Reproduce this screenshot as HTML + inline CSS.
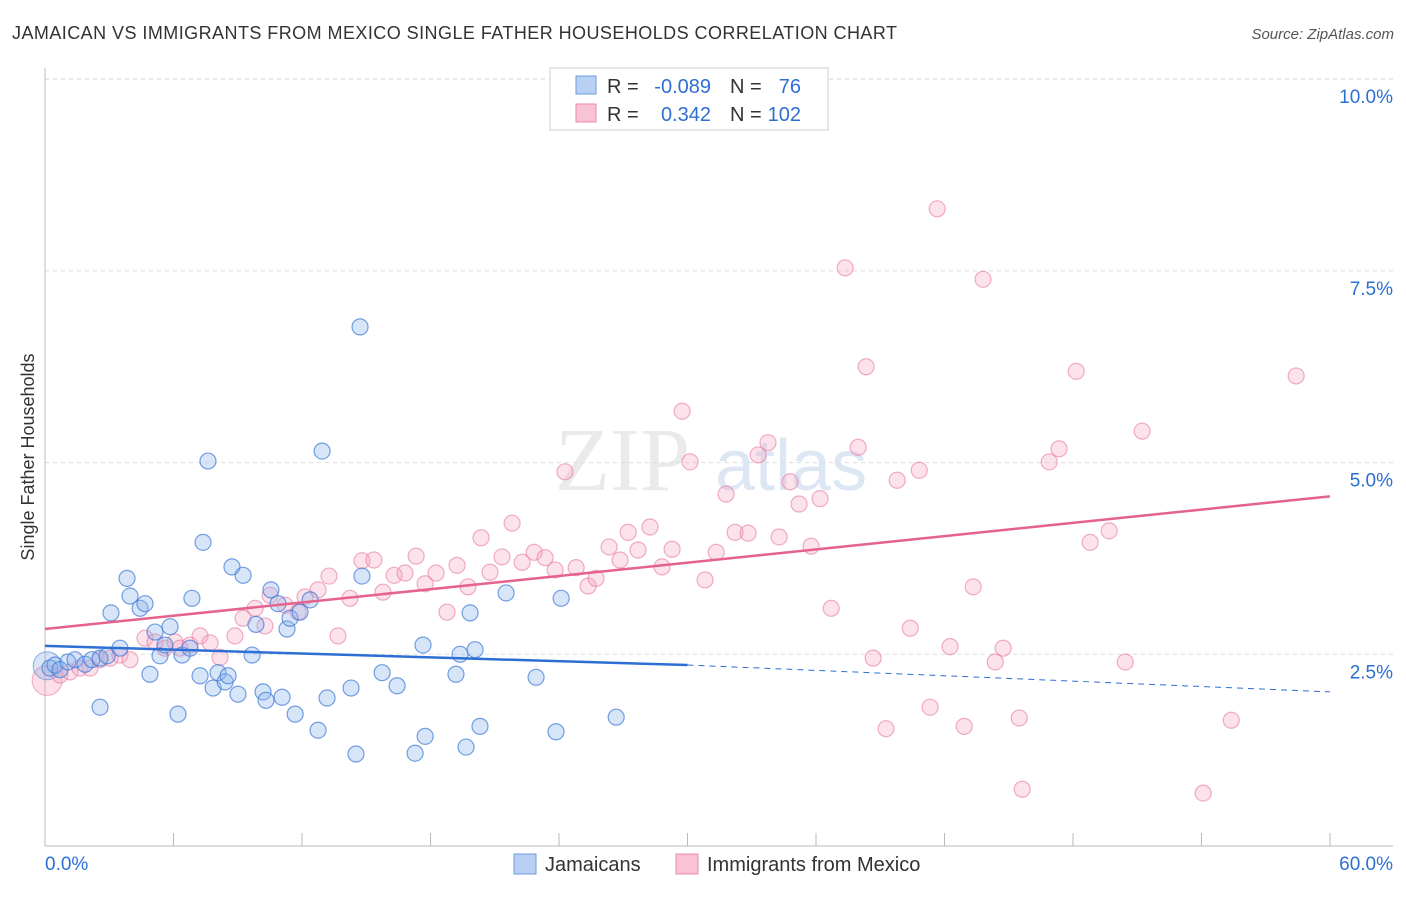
<!DOCTYPE html>
<html><head><meta charset="utf-8"><style>
body{margin:0;background:#fff;font-family:"Liberation Sans",sans-serif;}
</style></head><body>
<svg id="chart" width="1406" height="892" xmlns="http://www.w3.org/2000/svg" style="font-family:'Liberation Sans',sans-serif">
<text x="12" y="39" font-size="18" fill="#333" textLength="885" lengthAdjust="spacing">JAMAICAN VS IMMIGRANTS FROM MEXICO SINGLE FATHER HOUSEHOLDS CORRELATION CHART</text>
<text x="1394" y="39" font-size="15" fill="#555" text-anchor="end" font-style="italic">Source: ZipAtlas.com</text>
<g><text x="555" y="490" font-size="90" fill="#ddd" font-family="Liberation Serif" opacity="0.6">ZIP</text><text x="715" y="490" font-size="72" fill="#c8d8ee" opacity="0.6">atlas</text></g>
<g id="grid"></g><g id="axes"></g><g id="pts"></g><g id="trends"></g>
<text transform="translate(34,457) rotate(-90)" font-size="18" fill="#333" text-anchor="middle">Single Father Households</text>
<g>
<rect x="550" y="68" width="278" height="62" fill="#fff" stroke="#ccc"/>
<rect x="576" y="76" width="20" height="18" fill="#b8d1f3" stroke="#6b9be0"/>
<rect x="576" y="104" width="20" height="18" fill="#f9c3d3" stroke="#e88aa8"/>
<text x="607" y="93" font-size="20" fill="#333">R =</text>
<text x="711" y="93" font-size="20" fill="#2d6fd4" text-anchor="end">-0.089</text>
<text x="730" y="93" font-size="20" fill="#333">N =</text>
<text x="801" y="93" font-size="20" fill="#2d6fd4" text-anchor="end">76</text>
<text x="607" y="121" font-size="20" fill="#333">R =</text>
<text x="711" y="121" font-size="20" fill="#2d6fd4" text-anchor="end">0.342</text>
<text x="730" y="121" font-size="20" fill="#333">N =</text>
<text x="801" y="121" font-size="20" fill="#2d6fd4" text-anchor="end">102</text>
</g>
<g>
<rect x="514" y="854" width="22" height="20" fill="#b8d1f3" stroke="#6b9be0"/>
<text x="545" y="871" font-size="20" fill="#333">Jamaicans</text>
<rect x="676" y="854" width="22" height="20" fill="#f9c3d3" stroke="#e88aa8"/>
<text x="707" y="871" font-size="20" fill="#333">Immigrants from Mexico</text>
</g>
</svg>
<script>
const blueX=[0.23,0.47,0.70,1.07,1.40,1.87,2.19,2.57,2.90,2.57,3.08,3.50,3.83,3.97,4.44,4.67,4.90,5.14,5.37,5.60,5.84,6.21,6.40,6.77,6.86,7.24,7.38,7.61,7.85,8.08,8.41,8.55,8.73,9.01,9.25,9.67,9.85,10.18,10.32,10.55,10.88,11.07,11.30,11.44,11.68,11.91,12.38,12.75,12.94,13.17,14.29,14.52,14.71,14.80,15.74,16.44,17.28,17.65,17.75,19.19,19.38,19.66,19.85,20.08,20.31,21.53,22.93,23.86,24.10,26.67];
const blueY=[2.32,2.36,2.30,2.40,2.43,2.37,2.43,2.45,2.48,1.81,3.04,2.58,3.49,3.26,3.10,3.16,2.24,2.79,2.48,2.62,2.86,1.72,2.49,2.58,3.23,2.22,3.96,5.02,2.06,2.26,2.14,2.22,3.64,1.98,3.53,2.49,2.89,2.01,1.90,3.34,3.16,1.94,2.83,2.97,1.72,3.05,3.21,1.51,5.15,1.93,2.06,1.20,6.77,3.52,2.26,2.09,1.21,2.62,1.43,2.24,2.50,1.29,3.04,2.56,1.56,3.30,2.20,1.49,3.23,1.68];
const pinkX=[0.70,1.17,1.63,2.10,2.57,3.04,3.50,3.97,4.67,5.14,5.60,6.07,6.30,6.77,7.24,7.71,8.17,8.87,9.25,9.81,10.27,10.51,11.21,11.82,12.14,12.75,13.26,13.68,14.24,14.80,15.36,15.78,16.30,16.81,17.33,17.75,18.26,18.77,19.24,19.75,20.36,20.78,21.34,21.81,22.28,22.84,23.35,23.82,24.28,24.80,25.36,25.73,26.34,26.85,27.23,27.69,28.25,28.81,29.28,29.75,30.12,30.82,31.34,31.80,32.22,32.83,33.30,33.76,34.28,34.79,35.21,35.77,36.19,36.71,37.36,37.97,38.34,38.67,39.27,39.79,40.40,40.82,41.33,41.66,42.26,42.92,43.34,43.80,44.37,44.74,45.49,45.63,46.89,47.35,48.15,48.80,49.69,50.44,51.23,54.08,55.39,58.42];
const pinkY=[2.23,2.27,2.32,2.32,2.43,2.45,2.49,2.43,2.71,2.66,2.58,2.66,2.58,2.62,2.74,2.65,2.46,2.74,2.97,3.10,2.87,3.27,3.14,3.05,3.25,3.34,3.52,2.74,3.23,3.72,3.73,3.31,3.53,3.56,3.78,3.42,3.56,3.05,3.66,3.38,4.02,3.57,3.77,4.21,3.70,3.83,3.76,3.60,4.88,3.63,3.39,3.49,3.90,3.73,4.09,3.86,4.16,3.64,3.87,5.67,5.01,3.47,3.83,4.59,4.09,4.08,5.10,5.26,4.03,4.75,4.46,3.91,4.53,3.10,7.54,5.20,6.25,2.45,1.53,4.77,2.84,4.90,1.81,8.31,2.60,1.56,3.38,7.39,2.40,2.58,1.67,0.74,5.01,5.18,6.19,3.96,4.11,2.40,5.41,0.69,1.64,6.13];
const yTicks=[2.5,5.0,7.5,10.0];
const xTickLabels=["0.0%","60.0%"];
const blueTrend=[2.61,2.36,2.01]; // at x=0,30,60
const pinkTrend=[2.83,4.56]; // at x=0,60
const X=v=>45+v/60*1285, Y=v=>846-v/2.5*191.7;
const NS="http://www.w3.org/2000/svg";
function mk(p,t,a){const e=document.createElementNS(NS,t);for(const k in a)e.setAttribute(k,a[k]);p.appendChild(e);return e;}
const grid=document.getElementById('grid'),axes=document.getElementById('axes'),pts=document.getElementById('pts'),tr=document.getElementById('trends');
mk(grid,'line',{x1:45,x2:1393,y1:79,y2:79,stroke:'#ddd','stroke-dasharray':'4,4'});
yTicks.forEach(t=>{const g=mk(grid,'line',{x1:45,x2:1393,y1:Y(t),y2:Y(t),stroke:'#ddd','stroke-dasharray':'4,4'});


const l=mk(axes,'text',{x:1393,y:Y(t)+24,'font-size':19,fill:'#2d6fd4','text-anchor':'end'});l.textContent=t.toFixed(1)+'%';

});
mk(axes,'line',{x1:45,x2:45,y1:68,y2:846,stroke:'#bbb'});
mk(axes,'line',{x1:45,x2:1393,y1:846,y2:846,stroke:'#bbb'});
for(let i=0;i<=10;i++){mk(axes,'line',{x1:X(i*6),x2:X(i*6),y1:833,y2:846,stroke:'#bbb'});}
const l0=mk(axes,'text',{x:45,y:870,'font-size':19,fill:'#2d6fd4'});l0.textContent=xTickLabels[0];


const l1=mk(axes,'text',{x:1393,y:870,'font-size':19,fill:'#2d6fd4','text-anchor':'end'});l1.textContent=xTickLabels[1];


const big1=mk(pts,'circle',{cx:X(0.1),cy:Y(2.16),r:15,fill:'rgba(244,150,180,0.3)',stroke:'rgba(232,120,160,0.6)'});


const big2=mk(pts,'circle',{cx:X(0.1),cy:Y(2.35),r:14,fill:'rgba(130,170,230,0.3)',stroke:'rgba(70,130,220,0.6)'});


pinkX.forEach((x,i)=>{const c=mk(pts,'circle',{cx:X(x),cy:Y(pinkY[i]),r:8,fill:'rgba(244,160,188,0.3)',stroke:'rgba(232,120,160,0.6)','stroke-width':1.2});

});
blueX.forEach((x,i)=>{const c=mk(pts,'circle',{cx:X(x),cy:Y(blueY[i]),r:8,fill:'rgba(140,180,235,0.35)',stroke:'rgba(60,120,215,0.7)','stroke-width':1.2});

});
const b1=mk(tr,'line',{x1:X(0),y1:Y(blueTrend[0]),x2:X(30),y2:Y(blueTrend[1]),stroke:'#2d6fd4','stroke-width':2.5});


const b2=mk(tr,'line',{x1:X(30),y1:Y(blueTrend[1]),x2:X(60),y2:Y(blueTrend[2]),stroke:'#2d6fd4','stroke-width':1,'stroke-dasharray':'6,5'});


const p1=mk(tr,'line',{x1:X(0),y1:Y(pinkTrend[0]),x2:X(60),y2:Y(pinkTrend[1]),stroke:'#e5628c','stroke-width':2.5});


</script>
</body></html>
